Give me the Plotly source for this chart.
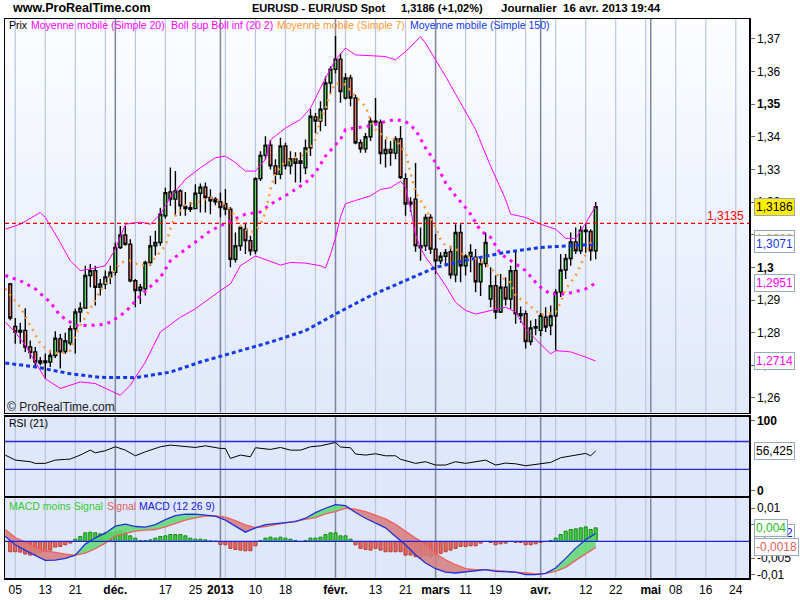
import plotly.graph_objects as go
import pandas as pd

# ---------------- calendar (trading days, 0 = 5 Nov 2012) ----------------
DAYS = pd.bdate_range("2012-10-29", "2013-06-07")
ORIGIN = int(DAYS.get_loc(pd.Timestamp("2012-11-05")))


def tpos(d):
    return int(DAYS.get_loc(pd.Timestamp(d))) - ORIGIN


first_candle = "2012-11-02"

# ---------------- EURUSD daily candles (2 Nov 2012 .. 16 Apr 2013) ----------------
opens = [1.2949, 1.2819, 1.2802, 1.2807, 1.2756, 1.2741, 1.2713, 1.2708, 1.2710, 1.2730,
         1.2781, 1.2742, 1.2768, 1.2812, 1.2863, 1.2875, 1.2975, 1.2990, 1.2939, 1.2949,
         1.2971, 1.2985, 1.3061, 1.3099, 1.3071, 1.2959, 1.2939, 1.2934, 1.3015, 1.3066,
         1.3076, 1.3158, 1.3231, 1.3209, 1.3234, 1.3187, 1.3183, 1.3180, 1.3227, 1.3246,
         1.3214, 1.3209, 1.3201, 1.3195, 1.3178, 1.3025, 1.3066, 1.3117, 1.3082, 1.3051,
         1.3272, 1.3343, 1.3374, 1.3311, 1.3285, 1.3372, 1.3311, 1.3333, 1.3319, 1.3305,
         1.3366, 1.3461, 1.3448, 1.3485, 1.3565, 1.3607, 1.3638, 1.3519, 1.3580, 1.3519,
         1.3382, 1.3363, 1.3400, 1.3448, 1.3445, 1.3349, 1.3361, 1.3350, 1.3394, 1.3272,
         1.3194, 1.3209, 1.3066, 1.3066, 1.3153, 1.3056, 1.3020, 1.3034, 1.3048, 1.2977,
         1.3107, 1.3005, 1.3034, 1.3031, 1.2956, 1.3012, 1.2903, 1.2944, 1.2863, 1.2939,
         1.2903, 1.2990, 1.2858, 1.2858, 1.2773, 1.2814, 1.2807, 1.2847, 1.2822, 1.2851,
         1.2924, 1.2992, 1.3027, 1.3078, 1.3051, 1.3114, 1.3110, 1.3051]
highs = [1.2952, 1.2845, 1.2830, 1.2875, 1.2776, 1.2756, 1.2725, 1.2736, 1.2746, 1.2804,
         1.2796, 1.2800, 1.2822, 1.2873, 1.2893, 1.3005, 1.3010, 1.3005, 1.2964, 1.2990,
         1.3005, 1.3076, 1.3127, 1.3127, 1.3086, 1.2964, 1.2949, 1.3020, 1.3097, 1.3112,
         1.3183, 1.3244, 1.3306, 1.3295, 1.3239, 1.3231, 1.3200, 1.3255, 1.3257, 1.3260,
         1.3239, 1.3215, 1.3229, 1.3240, 1.3185, 1.3107, 1.3127, 1.3137, 1.3097, 1.3276,
         1.3356, 1.3402, 1.3390, 1.3331, 1.3397, 1.3382, 1.3356, 1.3353, 1.3353, 1.3392,
         1.3485, 1.3473, 1.3509, 1.3585, 1.3616, 1.3709, 1.3656, 1.3595, 1.3590, 1.3529,
         1.3392, 1.3412, 1.3458, 1.3519, 1.3453, 1.3392, 1.3387, 1.3402, 1.3433, 1.3288,
         1.3215, 1.3320, 1.3122, 1.3163, 1.3163, 1.3102, 1.3046, 1.3056, 1.3066, 1.3132,
         1.3132, 1.3040, 1.3071, 1.3056, 1.3031, 1.3107, 1.3000, 1.2975, 1.2980, 1.2969,
         1.3005, 1.3051, 1.2880, 1.2868, 1.2837, 1.2842, 1.2860, 1.2878, 1.2883, 1.2934,
         1.3041, 1.3041, 1.3107, 1.3122, 1.3127, 1.3135, 1.3117, 1.3200]
lows = [1.2838, 1.2766, 1.2766, 1.2741, 1.2720, 1.2695, 1.2700, 1.2659, 1.2695, 1.2722,
        1.2690, 1.2735, 1.2761, 1.2736, 1.2832, 1.2873, 1.2939, 1.2883, 1.2914, 1.2934,
        1.2949, 1.2975, 1.3056, 1.3066, 1.2954, 1.2878, 1.2888, 1.2914, 1.3005, 1.3036,
        1.3066, 1.3150, 1.3188, 1.3158, 1.3158, 1.3158, 1.3170, 1.3178, 1.3168, 1.3168,
        1.3163, 1.3190, 1.3153, 1.3160, 1.3000, 1.3015, 1.3051, 1.3041, 1.3036, 1.3040,
        1.3265, 1.3330, 1.3300, 1.3255, 1.3270, 1.3300, 1.3285, 1.3260, 1.3260, 1.3285,
        1.3341, 1.3412, 1.3417, 1.3433, 1.3534, 1.3595, 1.3504, 1.3514, 1.3494, 1.3377,
        1.3351, 1.3351, 1.3387, 1.3433, 1.3316, 1.3306, 1.3311, 1.3331, 1.3270, 1.3158,
        1.3170, 1.3048, 1.3020, 1.3050, 1.3041, 1.2980, 1.3010, 1.3010, 1.2965, 1.2954,
        1.2954, 1.2975, 1.2985, 1.2924, 1.2912, 1.3000, 1.2878, 1.2842, 1.2860, 1.2883,
        1.2873, 1.2827, 1.2830, 1.2751, 1.2761, 1.2792, 1.2790, 1.2802, 1.2792, 1.2746,
        1.2909, 1.2964, 1.3005, 1.3041, 1.3041, 1.3045, 1.3020, 1.3025]
closes = [1.2845, 1.2802, 1.2807, 1.2756, 1.2739, 1.2710, 1.2707, 1.2713, 1.2730, 1.2783,
          1.2741, 1.2775, 1.2812, 1.2863, 1.2875, 1.2975, 1.2990, 1.2939, 1.2949, 1.2971,
          1.2985, 1.3061, 1.3099, 1.3071, 1.2959, 1.2929, 1.2929, 1.3015, 1.3066, 1.3076,
          1.3163, 1.3229, 1.3209, 1.3234, 1.3189, 1.3180, 1.3178, 1.3227, 1.3246, 1.3214,
          1.3204, 1.3201, 1.3183, 1.3178, 1.3025, 1.3066, 1.3122, 1.3082, 1.3051, 1.3272,
          1.3343, 1.3374, 1.3311, 1.3285, 1.3372, 1.3311, 1.3333, 1.3319, 1.3326, 1.3366,
          1.3463, 1.3448, 1.3485, 1.3565, 1.3607, 1.3638, 1.3539, 1.3580, 1.3519, 1.3382,
          1.3363, 1.3400, 1.3448, 1.3445, 1.3349, 1.3361, 1.3350, 1.3394, 1.3275, 1.3194,
          1.3200, 1.3066, 1.3060, 1.3153, 1.3056, 1.3020, 1.3034, 1.3046, 1.2977, 1.3107,
          1.3005, 1.3034, 1.3046, 1.2956, 1.3012, 1.3076, 1.2944, 1.2863, 1.2939, 1.2903,
          1.2990, 1.2858, 1.2852, 1.2773, 1.2814, 1.2818, 1.2853, 1.2817, 1.2851, 1.2924,
          1.2992, 1.3027, 1.3078, 1.3051, 1.3114, 1.3110, 1.3051, 1.3186]

# ---------------- indicator readings (x = trading-day offset) ----------------
sma150_x = [-2, 4, 11, 17, 24, 31, 37, 44, 51, 58, 64, 71, 78, 84, 91, 98, 105, 110, 116]
sma150_y = [1.2707, 1.2695, 1.2674, 1.2663, 1.2662, 1.2679, 1.2710, 1.2741, 1.2771, 1.2806,
            1.2857, 1.2913, 1.2959, 1.3000, 1.3025, 1.3046, 1.3061, 1.3066, 1.3071]

sma20_x = [-2, 1, 4, 7, 9, 12, 15, 17, 19, 22, 25, 29, 31, 35, 39, 43, 46, 49, 51, 55, 58, 60,
           62, 65, 66, 68, 71, 74, 76, 78, 80, 82, 84, 86, 88, 90, 91, 93, 95, 97, 99, 102, 104,
           105, 107, 110, 114, 116]
sma20_y = [1.2975, 1.2959, 1.2934, 1.2893, 1.2852, 1.2822, 1.2822, 1.2824, 1.2832, 1.2863,
           1.2913, 1.2969, 1.3020, 1.3066, 1.3112, 1.3142, 1.3163, 1.3170, 1.3193, 1.3229,
           1.3259, 1.3290, 1.3341, 1.3392, 1.3422, 1.3427, 1.3434, 1.3447, 1.3453, 1.3447,
           1.3422, 1.3366, 1.3321, 1.3259, 1.3219, 1.3183, 1.3163, 1.3112, 1.3092, 1.3041,
           1.3020, 1.2990, 1.2954, 1.2939, 1.2918, 1.2918, 1.2934, 1.2952]

boll_sup_x = [-2, 1, 5, 6, 9, 11, 13, 15, 18, 20, 22, 25, 27, 29, 31, 34, 37, 40, 42, 44, 46,
              48, 50, 51, 54, 57, 59, 62, 64, 66, 68, 71, 74, 76, 78, 81, 82, 84, 86, 89, 92,
              95, 98, 99, 102, 105, 108, 110, 112, 114, 116]
boll_sup_y = [1.3117, 1.3132, 1.3168, 1.3153, 1.3076, 1.3020, 1.2990, 1.2995, 1.3005, 1.3056,
              1.3132, 1.3139, 1.3132, 1.3163, 1.3214, 1.3270, 1.3305, 1.3336, 1.3341, 1.3321,
              1.3295, 1.3295, 1.3331, 1.3390, 1.3427, 1.3453, 1.3488, 1.3580, 1.3636, 1.3672,
              1.3651, 1.3648, 1.3646, 1.3636, 1.3661, 1.3707, 1.3687, 1.3636, 1.3585, 1.3504,
              1.3422, 1.3310, 1.3208, 1.3163, 1.3153, 1.3132, 1.3117, 1.3089, 1.3089, 1.3135,
              1.3188]

boll_inf_x = [-2, 0, 2, 4, 6, 9, 13, 16, 19, 21, 23, 26, 29, 33, 36, 39, 41, 43, 45, 48, 51,
              53, 55, 58, 61, 62, 63, 64, 65, 66, 68, 71, 73, 75, 77, 78, 79, 80, 81, 82, 84,
              86, 88, 90, 92, 95, 98, 100, 102, 105, 107, 108, 111, 114, 116]
boll_inf_y = [1.2832, 1.2802, 1.2761, 1.2710, 1.2659, 1.2629, 1.2649, 1.2644, 1.2623, 1.2608,
              1.2639, 1.2710, 1.2802, 1.2847, 1.2873, 1.2908, 1.2929, 1.2949, 1.3005, 1.3035,
              1.3018, 1.3007, 1.3015, 1.3013, 1.3005, 1.2998, 1.3040, 1.3090, 1.3155, 1.3195,
              1.3205, 1.3219, 1.3239, 1.3244, 1.3264, 1.3245, 1.3180, 1.3100, 1.3060, 1.3031,
              1.2990, 1.2944, 1.2893, 1.2868, 1.2857, 1.2868, 1.2878, 1.2863, 1.2812, 1.2764,
              1.2735, 1.2745, 1.2741, 1.2725, 1.2713]

sma7_x = [-2, 1, 3, 5, 7, 9, 11, 12, 13, 15, 17, 19, 21, 23, 25, 27, 28, 30, 31, 32, 34, 36,
          39, 41, 43, 45, 47, 48, 49, 50, 51, 52, 54, 55, 58, 60, 61, 62, 63, 64, 66, 68, 70,
          71, 72, 74, 76, 78, 79, 80, 82, 84, 85, 86, 88, 90, 92, 95, 96, 98, 99, 100, 102,
          104, 105, 106, 108, 109, 110, 112, 113, 114, 115, 116]
sma7_y = [1.2935, 1.2878, 1.2822, 1.2766, 1.2741, 1.2735, 1.2745, 1.2791, 1.2822, 1.2873,
          1.2929, 1.2974, 1.3015, 1.3020, 1.3005, 1.3010, 1.3031, 1.3066, 1.3117, 1.3158,
          1.3193, 1.3198, 1.3214, 1.3203, 1.3178, 1.3127, 1.3107, 1.3112, 1.3132, 1.3168,
          1.3239, 1.3290, 1.3325, 1.3331, 1.3346, 1.3392, 1.3453, 1.3488, 1.3534, 1.3565,
          1.3560, 1.3524, 1.3493, 1.3453, 1.3422, 1.3397, 1.3392, 1.3351, 1.3290, 1.3229,
          1.3180, 1.3122, 1.3086, 1.3066, 1.3056, 1.3035, 1.3027, 1.3000, 1.2980, 1.2964,
          1.2954, 1.2913, 1.2893, 1.2868, 1.2854, 1.2857, 1.2863, 1.2893, 1.2934, 1.2974,
          1.3005, 1.3041, 1.3076, 1.3086]

rsi_x = [-2, 0, 3, 4, 6, 8, 11, 13, 15, 16, 18, 20, 22, 24, 26, 29, 31, 34, 36, 38, 41, 42,
         43, 45, 47, 48, 51, 53, 55, 57, 59, 61, 64, 65, 67, 68, 70, 72, 74, 76, 77, 80, 82,
         84, 86, 88, 90, 94, 96, 98, 100, 102, 105, 107, 109, 112, 114, 115, 116]
rsi_y = [50.5, 43.3, 41.0, 38.6, 38.6, 43.3, 44.8, 50.5, 57.6, 53.8, 56.7, 62.4, 57.6, 49.5,
         55.2, 62.4, 64.8, 62.4, 61.4, 63.8, 60.0, 60.0, 45.7, 50.5, 48.1, 61.0, 58.6, 61.4,
         57.6, 57.6, 62.4, 63.8, 68.5, 62.0, 61.0, 52.0, 50.5, 52.4, 49.5, 49.5, 44.5, 38.6,
         41.0, 36.2, 36.2, 41.0, 38.6, 43.3, 36.2, 39.0, 38.0, 35.2, 38.6, 40.0, 46.7, 50.5,
         52.9, 49.5, 56.4]

macd_x = [-2, 0, 2, 4, 6, 8, 10, 12, 14, 16, 18, 20, 22, 24, 26, 28, 30, 32, 34, 36, 38, 40,
          42, 44, 46, 48, 50, 52, 54, 56, 58, 60, 62, 64, 66, 68, 70, 72, 74, 76, 78, 80, 82,
          84, 86, 88, 90, 92, 94, 96, 98, 100, 102, 104, 106, 108, 110, 112, 114, 116]
macd_line = [0.0015, -0.0010, -0.0027, -0.0042, -0.0057, -0.0056, -0.0051, -0.0041, -0.0008,
             0.0011, 0.0025, 0.0046, 0.0052, 0.0045, 0.0043, 0.0051, 0.0066, 0.0078, 0.0082,
             0.0082, 0.0080, 0.0076, 0.0064, 0.0046, 0.0028, 0.0041, 0.0051, 0.0054, 0.0056,
             0.0060, 0.0070, 0.0087, 0.0100, 0.0111, 0.0108, 0.0087, 0.0070, 0.0055, 0.0041,
             0.0015, -0.0010, -0.0040, -0.0065, -0.0082, -0.0092, -0.0095, -0.0092, -0.0090,
             -0.0085, -0.0090, -0.0092, -0.0092, -0.0100, -0.0100, -0.0096, -0.0080, -0.0051,
             -0.0020, 0.0005, 0.0024]
signal_line = [0.0036, 0.0012, -0.0002, -0.0018, -0.0028, -0.0034, -0.0038, -0.0041, -0.0035,
               -0.0022, -0.0005, 0.0017, 0.0025, 0.0031, 0.0034, 0.0036, 0.0044, 0.0055, 0.0064,
               0.0071, 0.0076, 0.0077, 0.0073, 0.0063, 0.0050, 0.0042, 0.0045, 0.0051, 0.0056,
               0.0062, 0.0066, 0.0072, 0.0083, 0.0090, 0.0100, 0.0097, 0.0090, 0.0080, 0.0068,
               0.0052, 0.0030, 0.0010, -0.0008, -0.0036, -0.0055, -0.0070, -0.0082, -0.0085,
               -0.0085, -0.0087, -0.0089, -0.0092, -0.0095, -0.0098, -0.0096, -0.0090, -0.0078,
               -0.0057, -0.0038, -0.0018]
macd_hist = [-0.0031, -0.0031, -0.0032, -0.0038, -0.0041, -0.0041, -0.0034, -0.0031, -0.0026,
             -0.0017, -0.0015, -0.0010, -0.0005, 0.0007, 0.0015, 0.0026, 0.0028, 0.0026, 0.0023,
             0.0026, 0.0026, 0.0028, 0.0031, 0.0026, 0.0017, 0.0010, 0.0003, 0.0003, 0.0005,
             0.0010, 0.0015, 0.0017, 0.0021, 0.0021, 0.0021, 0.0017, 0.0010, 0.0007, 0.0007,
             0.0005, 0.0002, 0.0001, -0.0009, -0.0010, -0.0021, -0.0024, -0.0026, -0.0028,
             -0.0028, -0.0013, 0.0003, 0.0010, 0.0013, 0.0010, 0.0013, 0.0010, 0.0007, 0.0003,
             0.0000, 0.0003, 0.0010, 0.0010, 0.0013, 0.0021, 0.0026, 0.0026, 0.0017, 0.0017,
             0.0007, -0.0010, -0.0021, -0.0024, -0.0026, -0.0021, -0.0026, -0.0031, -0.0031,
             -0.0031, -0.0031, -0.0041, -0.0041, -0.0046, -0.0051, -0.0041, -0.0046, -0.0041,
             -0.0036, -0.0031, -0.0026, -0.0021, -0.0015, -0.0015, -0.0013, -0.0013, -0.0005,
             0.0000, -0.0003, -0.0010, -0.0007, -0.0005, 0.0000, -0.0003, -0.0003, -0.0010,
             -0.0010, -0.0007, -0.0003, 0.0000, 0.0003, 0.0010, 0.0021, 0.0031, 0.0036, 0.0038,
             0.0041, 0.0044, 0.0036, 0.0041]

ref_level = 1.3135

# ---------------- axis ticks ----------------
price_ticks = [1.37, 1.36, 1.35, 1.34, 1.33, 1.32, 1.31, 1.30, 1.29, 1.28, 1.27, 1.26]
price_tick_text = ["1,37", "1,36", "<b>1,35</b>", "1,34", "1,33", "1,32", "1,31", "<b>1,3</b>",
                   "1,29", "1,28", "1,27", "1,26"]
rsi_ticks = [100, 0]
rsi_tick_text = ["<b>100</b>", "<b>0</b>"]
macd_ticks = [0.01, 0.005, -0.005, -0.01]
macd_tick_text = ["0,01", "0,005", "-0,005", "-0,01"]
date_ticks = ["2012-11-05", "2012-11-13", "2012-11-21", "2012-12-03", "2012-12-17", "2012-12-25",
              "2013-01-01", "2013-01-10", "2013-01-18", "2013-02-01", "2013-02-13", "2013-02-21",
              "2013-03-01", "2013-03-11", "2013-03-19", "2013-04-01", "2013-04-12", "2013-04-22",
              "2013-05-01", "2013-05-08", "2013-05-16", "2013-05-24"]
date_tick_text = ["05", "13", "21", "<b>déc.</b>", "17", "25", "<b>2013</b>", "10", "18",
                  "<b>févr.</b>", "13", "21", "<b>mars</b>", "11", "19", "<b>avr.</b>", "12",
                  "22", "<b>mai</b>", "08", "16", "24"]
month_starts = ["2012-12-03", "2013-01-01", "2013-02-01", "2013-03-01", "2013-04-01", "2013-05-01"]
grid_step = 6

# ---------------- geometry helpers (pixel -> paper) ----------------
W, H = 800, 600
L, R, T, B = 3, 749, 19, 580


def px(xp):
    return (xp - L) / (R - L)


def py(yp):
    return (B - yp) / (B - T)


FONT = 'Arial, "Liberation Sans", sans-serif'
x0 = tpos(first_candle)
cx = [x0 + k for k in range(len(opens))]
xr = [-2.05, 146.64]

fig = go.Figure()

# candles
fig.add_trace(go.Candlestick(
    x=cx, open=opens, high=highs, low=lows, close=closes,
    increasing=dict(fillcolor="#5ed85e", line=dict(color="black", width=1.4)),
    decreasing=dict(fillcolor="#ef7d6d", line=dict(color="black", width=1.4)),
    xaxis="x", yaxis="y", hoverinfo="skip", showlegend=False))

# price indicators
fig.add_trace(go.Scatter(x=boll_sup_x, y=boll_sup_y, mode="lines",
                         line=dict(color="#ff00ff", width=1), xaxis="x", yaxis="y"))
fig.add_trace(go.Scatter(x=boll_inf_x, y=boll_inf_y, mode="lines",
                         line=dict(color="#ff00ff", width=1), xaxis="x", yaxis="y"))
fig.add_trace(go.Scatter(x=sma20_x, y=sma20_y, mode="lines",
                         line=dict(color="#ff00ff", width=3, dash="3px,5px"), xaxis="x", yaxis="y"))
fig.add_trace(go.Scatter(x=sma150_x, y=sma150_y, mode="lines",
                         line=dict(color="#1439e6", width=3, dash="4px,3px"), xaxis="x", yaxis="y"))
fig.add_trace(go.Scatter(x=sma7_x, y=sma7_y, mode="lines",
                         line=dict(color="#ff9933", width=2.5, dash="2px,5px"), xaxis="x", yaxis="y"))

# RSI
fig.add_trace(go.Scatter(x=rsi_x, y=rsi_y, mode="lines",
                         line=dict(color="black", width=1), xaxis="x2", yaxis="y2"))

# MACD fills between MACD and signal
gx, gy, rx, ry = [], [], [], []
for k in range(len(macd_x) - 1):
    xa, xb = macd_x[k], macd_x[k + 1]
    poly_x = [xa, xb, xb, xa, xa, None]
    poly_y = [macd_line[k], macd_line[k + 1], signal_line[k + 1], signal_line[k], macd_line[k], None]
    if (macd_line[k] - signal_line[k]) + (macd_line[k + 1] - signal_line[k + 1]) >= 0:
        gx += poly_x
        gy += poly_y
    else:
        rx += poly_x
        ry += poly_y
fig.add_trace(go.Scatter(x=gx, y=gy, mode="none", fill="toself", fillcolor="rgba(95,215,110,0.85)",
                         xaxis="x3", yaxis="y3"))
fig.add_trace(go.Scatter(x=rx, y=ry, mode="none", fill="toself", fillcolor="rgba(214,125,125,0.85)",
                         xaxis="x3", yaxis="y3"))
fig.add_trace(go.Bar(
    x=cx, y=macd_hist, width=0.62,
    marker=dict(color=["#3fcf3f" if v >= 0 else "#ee6a5a" for v in macd_hist],
                line=dict(color=["#148a14" if v >= 0 else "#b03a3a" for v in macd_hist], width=1)),
    xaxis="x3", yaxis="y3"))
fig.add_trace(go.Scatter(x=macd_x, y=signal_line, mode="lines",
                         line=dict(color="#ee6060", width=1.3), xaxis="x3", yaxis="y3"))
fig.add_trace(go.Scatter(x=macd_x, y=macd_line, mode="lines",
                         line=dict(color="#2030e0", width=1.3), xaxis="x3", yaxis="y3"))

# ---------------- shapes: backgrounds, grids ----------------
shapes = []
nb = 40
top_c = (252, 253, 255)
bot_c = (224, 232, 250)
for k in range(nb):
    t = (k + 0.5) / nb
    c = tuple(int(round(bot_c[j] + (top_c[j] - bot_c[j]) * t)) for j in range(3))
    shapes.append(dict(type="rect", xref="x domain", yref="y domain", x0=0, x1=1,
                       y0=k / nb, y1=(k + 1) / nb + 0.002, fillcolor="rgb(%d,%d,%d)" % c,
                       line=dict(width=0), layer="below"))
for ax in ["", "2", "3"]:
    if ax:
        shapes.append(dict(type="rect", xref="x%s domain" % ax, yref="y%s domain" % ax,
                           x0=0, x1=1, y0=0, y1=1, fillcolor="#dfe7fa", line=dict(width=0),
                           layer="below"))
    for g in range(0, 145, grid_step):
        shapes.append(dict(type="line", xref="x%s" % ax, yref="y%s domain" % ax, x0=g, x1=g,
                           y0=0, y1=1, line=dict(color="#bac6dd", width=1.2), layer="below"))
    for m in month_starts:
        p = tpos(m)
        shapes.append(dict(type="line", xref="x%s" % ax, yref="y%s domain" % ax, x0=p, x1=p,
                           y0=0, y1=1, line=dict(color="#7d879f", width=1.5), layer="below"))

shapes.append(dict(type="line", xref="x domain", yref="y", x0=0, x1=1, y0=ref_level, y1=ref_level,
                   line=dict(color="#ff0000", width=1.3, dash="4px,3px")))
for lvl in [70, 30]:
    shapes.append(dict(type="line", xref="x2 domain", yref="y2", x0=0, x1=1, y0=lvl, y1=lvl,
                       line=dict(color="#2a2ad0", width=1.3)))
shapes.append(dict(type="line", xref="x3 domain", yref="y3", x0=0, x1=1, y0=0, y1=0,
                   line=dict(color="#2020e0", width=1.3)))

# ---------------- annotations ----------------
ann = []


def text(xp, yp, s, color="black", size=12, anchor="left"):
    ann.append(dict(x=px(xp), y=py(yp), xref="paper", yref="paper", text=s, showarrow=False,
                    xanchor=anchor, yanchor="middle", font=dict(family=FONT, size=size, color=color)))


text(8, 8, "<b>www.ProRealTime.com</b>", size=12.5)
text(249, 8, "<b>EURUSD - EUR/USD Spot</b>", size=11)
text(398, 8, "<b>1,3186 (+1,02%)</b>", size=11)
text(498, 8, "<b>Journalier  16 avr. 2013 19:44</b>", size=11.5)

text(5, 25, "Prix", size=10.5)
text(27, 25, "Moyenne mobile (Simple 20)", color="#ff00ff", size=10.5)
text(167, 25, "Boll sup Boll inf (20 2)", color="#ff00ff", size=10.5)
text(274, 25, "Moyenne mobile (Simple 7)", color="#ff9933", size=10.5)
text(407, 25, "Moyenne mobile (Simple 150)", color="#1439e6", size=10.5)
text(3, 408, "© ProRealTime.com", color="#222222", size=12)
text(746, 217, "1,3135", color="#ff0000", size=12, anchor="right")

text(5, 424, "RSI (21)", size=10.5)
text(5, 508, "MACD moins Signal", color="#33cc33", size=10.5)
text(103, 508, "Signal", color="#e06060", size=10.5)
text(135, 508, "MACD (12 26 9)", color="#2020e0", size=10.5)


def vlabel(val, yref, s, color, bg="white"):
    ann.append(dict(x=px(754), y=val, xref="paper", yref=yref, text=s, showarrow=False,
                    xanchor="left", yanchor="middle", bgcolor=bg, bordercolor="#9aa8ba",
                    borderwidth=1, borderpad=1, font=dict(family=FONT, size=12, color=color)))


vlabel(sma7_y[-1], "y", "1,3086", "#ff9933")
vlabel(sma150_y[-1], "y", "1,3071", "#1439e6")
vlabel(sma20_y[-1], "y", "1,2951", "#ff00ff")
vlabel(boll_inf_y[-1], "y", "1,2714", "#ff00ff")
vlabel(closes[-1], "y", "1,3186", "black", bg="#ffee00")
vlabel(rsi_y[-1], "y2", "56,425", "black")
vlabel(macd_line[-1], "y3", "0,0022", "#2020e0")
vlabel(macd_hist[-1], "y3", "0,004", "#22bb22")
vlabel(signal_line[-1], "y3", "-0,0018", "#e06060")

# ---------------- layout ----------------
xcommon = dict(range=xr, showgrid=False, zeroline=False, showline=True, mirror=True,
               linecolor="black", linewidth=1.5, fixedrange=True)
ycommon = dict(side="right", showgrid=False, zeroline=False, showline=True, mirror=True,
               linecolor="black", linewidth=1.5, ticks="outside", ticklen=4, tickcolor="#666666",
               tickfont=dict(family=FONT, size=12, color="black"), fixedrange=True)

fig.update_layout(
    width=W, height=H,
    margin=dict(l=L, r=W - R, t=T, b=H - B),
    paper_bgcolor="white", plot_bgcolor="#dfe7fa",
    showlegend=False, hovermode=False, boxgap=0.2, bargap=0,
    font=dict(family=FONT, size=12, color="black"),
    xaxis=dict(xcommon, anchor="y", showticklabels=False, rangeslider=dict(visible=False)),
    xaxis2=dict(xcommon, anchor="y2", matches="x", showticklabels=False),
    xaxis3=dict(xcommon, anchor="y3", matches="x", tickmode="array",
                tickvals=[tpos(d) for d in date_ticks], ticktext=date_tick_text,
                ticks="", tickfont=dict(family=FONT, size=12, color="black")),
    yaxis=dict(ycommon, domain=[py(414), 1], range=[1.2555, 1.3761], tickmode="array",
               tickvals=price_ticks, ticktext=price_tick_text),
    yaxis2=dict(ycommon, domain=[py(498), py(418)], range=[-8.6, 105.7], tickmode="array",
                tickvals=rsi_ticks, ticktext=rsi_tick_text),
    yaxis3=dict(ycommon, domain=[0, py(500)], range=[-0.0110, 0.0130], tickmode="array",
                tickvals=macd_ticks, ticktext=macd_tick_text),
    shapes=shapes, annotations=ann,
)

fig.write_html("out.html", config={"displayModeBar": False, "staticPlot": True},
               post_script="document.body.style.margin='0px';")
